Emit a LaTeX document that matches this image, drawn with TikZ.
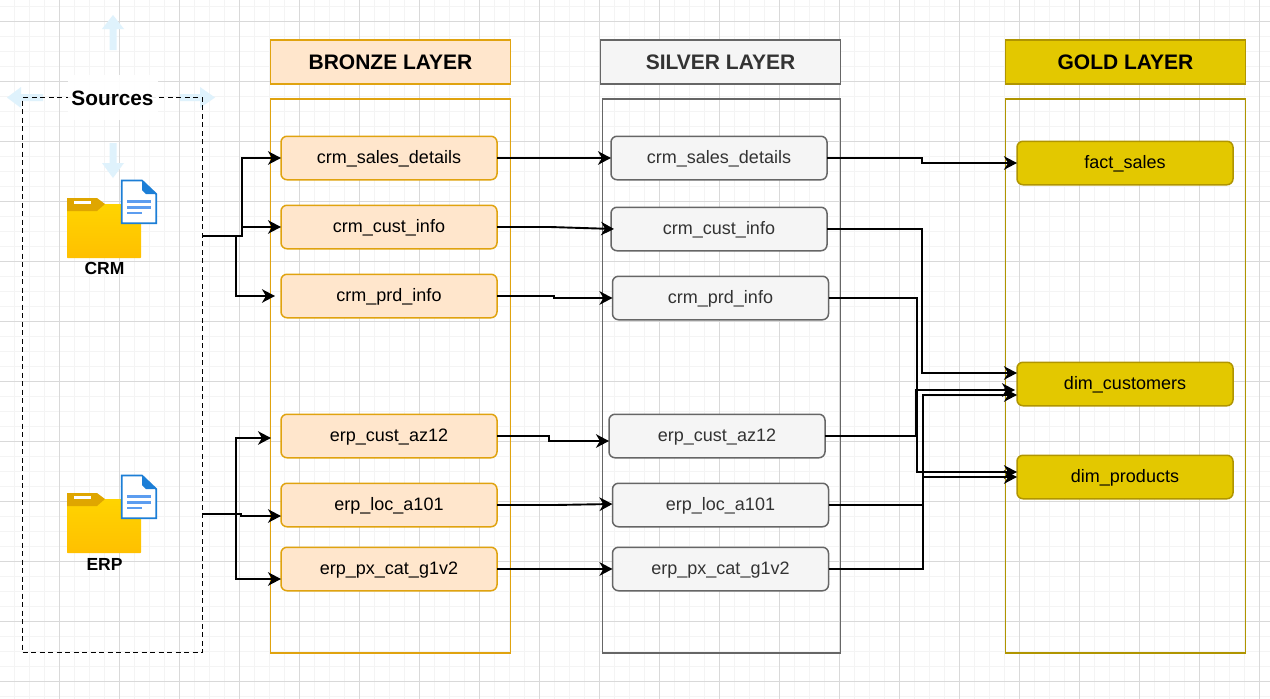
\documentclass[tikz,border=0pt]{standalone}
\usepackage{fontspec}
\setmainfont{Liberation Sans}
\usetikzlibrary{arrows.meta,calc}
\definecolor{gmajor}{HTML}{D9D9D9}
\definecolor{gminor}{HTML}{F4F4F4}
\definecolor{brfill}{HTML}{FFE6CC}
\definecolor{brline}{HTML}{E0A30F}
\definecolor{slfill}{HTML}{F5F5F5}
\definecolor{slline}{HTML}{666666}
\definecolor{glfill}{HTML}{E3C800}
\definecolor{glline}{HTML}{B09500}
\definecolor{hint}{HTML}{DFF2FC}
\definecolor{foldtop}{HTML}{DFA600}
\definecolor{foldA}{HTML}{FFD400}
\definecolor{foldB}{HTML}{FFC000}
\definecolor{docblue}{HTML}{1C7ED6}
\definecolor{docline}{HTML}{5C9DF0}
\tikzset{
  frame/.style={line width=1.5pt,fill=none,inner sep=0pt,outer sep=0pt,anchor=north west},
  hdr/.style={line width=1.5pt,inner sep=0pt,outer sep=0pt,minimum width=240pt,minimum height=44pt,text height=17pt,text depth=2pt,font=\fontsize{21}{26}\selectfont\bfseries},
  item/.style={line width=1.5pt,rounded corners=6pt,inner sep=0pt,outer sep=0pt,minimum width=216pt,minimum height=43.5pt,text height=14pt,text depth=3pt,font=\fontsize{18}{21}\selectfont},
  bronze/.style={draw=brline,fill=brfill,text=black},
  silver/.style={draw=slline,fill=slfill,text=black!80},
  gold/.style={draw=glline,fill=glfill,text=black},
  conn/.style={draw=black,line width=1.9pt,-{Stealth[length=13pt,width=13.5pt,inset=4pt]}},
  hintarrow/.style={fill=hint,draw=none},
  srclabel/.style={font=\fontsize{17.5}{20}\selectfont\bfseries,inner sep=0pt}
}
\newcommand{\foldericon}[2]{%
  \begin{scope}[shift={(#1,#2)}]
    \shade[top color=foldA,bottom color=foldB,rounded corners=0.6pt] (0,6) -- (74,6) -- (74,60) -- (0,60) -- cycle;
    \fill[foldtop] (0,0) -- (30,0) -- (38,6) -- (30,13) -- (0,13) -- cycle;
    \fill[white] (7,2.5) rectangle (24,6);
    \draw[docblue,line width=1.7pt,fill=white] (54.8,-17.5) -- (75,-17.5) -- (89.2,-4) -- (89.2,25.2) -- (54.8,25.2) -- cycle;
    \fill[docblue] (75,-17.5) -- (89.2,-4) -- (79,-4) -- (75,-8) -- cycle;
    \draw[docline,line width=2.7pt] (60,3.8) -- (84,3.8) (60,9.3) -- (84,9.3) (60,15) -- (75,15);
  \end{scope}}
\begin{document}
\begin{tikzpicture}[x=1pt,y=-1pt]
\useasboundingbox (0,0) rectangle (1270,699);
\fill[white] (0,0) rectangle (1270,699);
% grid
\foreach \k in {-1,...,84} {\draw[gminor,line width=1pt] ({14.3+15*\k},0) -- ({14.3+15*\k},699);}
\foreach \k in {-1,...,46} {\draw[gminor,line width=1pt] (0,{6.7+15*\k}) -- (1270,{6.7+15*\k});}
\foreach \k in {0,...,21} {\draw[gmajor,line width=1pt] ({-0.7+60*\k},0) -- ({-0.7+60*\k},699);}
\foreach \k in {0,...,11} {\draw[gmajor,line width=1pt] (0,{21.7+60*\k}) -- (1270,{21.7+60*\k});}
% hint arrows
\fill[hintarrow] (113,15) -- (124,29) -- (116.5,29) -- (116.5,50) -- (109.5,50) -- (109.5,29) -- (102,29) -- cycle;
\fill[hintarrow] (113,178) -- (124,163) -- (116.5,163) -- (116.5,143) -- (109.5,143) -- (109.5,163) -- (102,163) -- cycle;
\fill[hintarrow] (7,97.5) -- (21,87) -- (21,94) -- (43,94) -- (43,101) -- (21,101) -- (21,108) -- cycle;
\fill[hintarrow] (215,97.5) -- (200,87) -- (200,94) -- (180,94) -- (180,101) -- (200,101) -- (200,108) -- cycle;
% source frame
\node[draw=black,line width=1.5pt,dash pattern=on 5pt off 3.5pt,inner sep=0pt,outer sep=0pt,anchor=north west,minimum width=180pt,minimum height=555pt] (srcframe) at (22.5,97.5) {};
\node[fill=white,fill opacity=0.93,text opacity=1,inner sep=0pt,minimum width=90pt,minimum height=45pt,text height=18pt,text depth=3pt,font=\fontsize{20.8}{24}\selectfont\bfseries] (srctitle) at (112.5,97.5) {Sources};
% icons
\foldericon{67}{198}
\foldericon{67}{493}
\node[srclabel] (crmlabel) at (104.5,268.5) {CRM};
\node[srclabel] (erplabel) at (104.5,564) {ERP};
% frames and headers
\node[hdr,draw=brline,fill=brfill] (hb) at (390.5,62) {BRONZE LAYER};
\node[hdr,draw=slline,fill=slfill,text=black!80] (hs) at (720.5,62) {SILVER LAYER};
\node[hdr,draw=glline,fill=glfill] (hg) at (1125.5,62) {GOLD LAYER};
\node[frame,draw=brline,minimum width=240pt,minimum height=554pt] (fb) at (270.5,99) {};
\node[frame,draw=slline,minimum width=238pt,minimum height=554pt] (fs) at (602.5,99) {};
\node[frame,draw=glline,minimum width=240pt,minimum height=554pt] (fg) at (1005.5,99) {};
% bronze
\node[item,bronze] (b1) at (389,158) {crm\_sales\_details};
\node[item,bronze] (b2) at (389,227) {crm\_cust\_info};
\node[item,bronze] (b3) at (389,296) {crm\_prd\_info};
\node[item,bronze] (b4) at (389,436) {erp\_cust\_az12};
\node[item,bronze] (b5) at (389,505) {erp\_loc\_a101};
\node[item,bronze] (b6) at (389,569) {erp\_px\_cat\_g1v2};
% silver
\node[item,silver] (s1) at (719,158) {crm\_sales\_details};
\node[item,silver] (s2) at (719,229) {crm\_cust\_info};
\node[item,silver] (s3) at (720.5,298) {crm\_prd\_info};
\node[item,silver] (s4) at (717,436) {erp\_cust\_az12};
\node[item,silver] (s5) at (720.5,505) {erp\_loc\_a101};
\node[item,silver] (s6) at (720.5,569) {erp\_px\_cat\_g1v2};
% gold
\node[item,gold] (g1) at (1125,163) {fact\_sales};
\node[item,gold] (g2) at (1125,384) {dim\_customers};
\node[item,gold] (g3) at (1125,477) {dim\_products};
% source connector stubs
\coordinate (crmout) at (202.5,236);
\coordinate (erpout) at (202.5,514);
\draw[conn] (crmout) -- (242,236) -- (242,158) -- (b1.west);
\draw[conn] (crmout) -- (242,236) -- (242,227) -- (b2.west);
\draw[conn] (crmout) -- (236,236) -- (236,296) -- ([xshift=-6pt]b3.west);
\draw[conn] (erpout) -- (236,514) -- (236,438) -- ([xshift=-10pt,yshift=-2pt]b4.west);
\draw[conn] (erpout) -- (241,514) -- (241,516) -- ([yshift=-11pt]b5.west);
\draw[conn] (erpout) -- (236,514) -- (236,579) -- ([yshift=-10pt]b6.west);
% bronze to silver
\draw[conn] (b1.east) -- (s1.west);
\draw[conn] (b2.east) -- (550,227) -- ([xshift=3pt]s2.west);
\draw[conn] (b3.east) -- (554,296) -- (554,298) -- (s3.west);
\draw[conn] (b4.east) -- (549,436) -- (549,441) -- ([yshift=-5pt]s4.west);
\draw[conn] (b5.east) -- (555,505) -- ([yshift=1pt]s5.west);
\draw[conn] (b6.east) -- (s6.west);
% silver to gold
\draw[conn] (s1.east) -- (922,158) -- (922,163) -- (g1.west);
\draw[conn] (s2.east) -- (922,229) -- (922,373) -- ([yshift=11pt]g2.west);
\draw[conn] (s3.east) -- (917,298) -- (917,472) -- ([yshift=5pt]g3.west);
\draw[conn] (s4.east) -- (916,436) -- (916,390) -- ([xshift=-2pt,yshift=-6pt]g2.west);
\draw[conn] (s5.east) -- (923,505) -- (923,477) -- (g3.west);
\draw[conn] (s6.east) -- (923,569) -- (923,395) -- ([yshift=-11pt]g2.west);
\end{tikzpicture}
\end{document}
